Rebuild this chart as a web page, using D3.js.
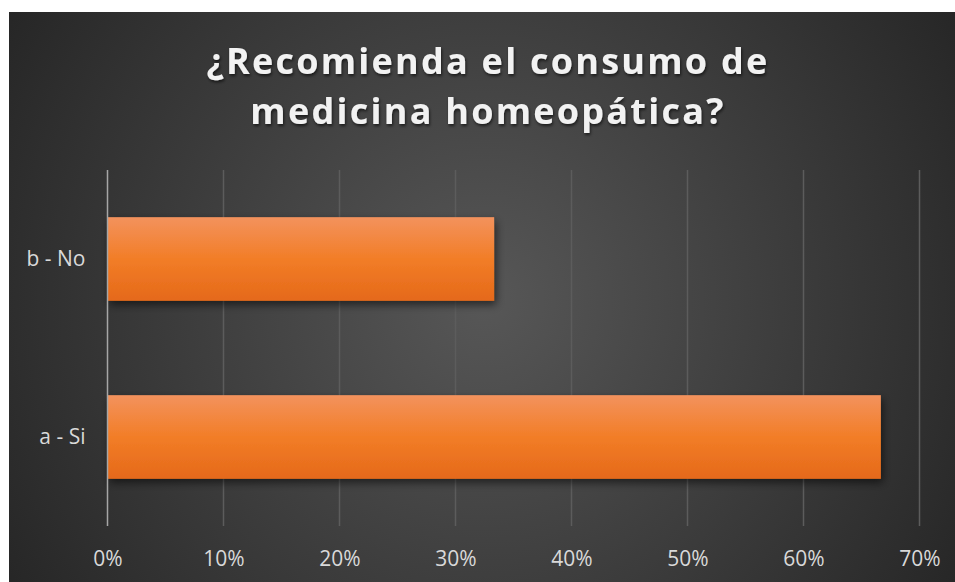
<!DOCTYPE html>
<html lang="es">
<head>
<meta charset="utf-8">
<title>Recomienda el consumo de medicina homeopática</title>
<script src="https://cdnjs.cloudflare.com/ajax/libs/d3/7.8.5/d3.min.js"></script>
<style>
  html, body { margin: 0; padding: 0; background: #fff; }
  svg { display: block; }
  .tick text { font-family: "Open Sans", "Noto Sans", sans-serif; }
</style>
</head>
<body>
<div id="chart"></div>
<script>
// data
var categories = ["b - No", "a - Si"];
var values = [0.3333, 0.6667];
var xTicks = [0, 0.1, 0.2, 0.3, 0.4, 0.5, 0.6, 0.7];
var titleLines = ["¿Recomienda el consumo de", "medicina homeopática?"];

var W = 955, H = 582;
var panel = {x: 9, y: 12};
var margin = {top: 170, right: 36, bottom: 56, left: 107.5};

var svg = d3.select("#chart").append("svg")
    .attr("width", W)
    .attr("height", H);

var defs = svg.append("defs");

var bg = defs.append("radialGradient")
    .attr("id", "bg")
    .attr("gradientUnits", "userSpaceOnUse")
    .attr("cx", 485).attr("cy", 300).attr("r", 560);
bg.append("stop").attr("offset", "0%").attr("stop-color", "#575757");
bg.append("stop").attr("offset", "100%").attr("stop-color", "#262626");

var barGrad = defs.append("linearGradient")
    .attr("id", "barGrad")
    .attr("x1", 0).attr("y1", 0).attr("x2", 0).attr("y2", 1);
barGrad.append("stop").attr("offset", "0%").attr("stop-color", "#f3925d");
barGrad.append("stop").attr("offset", "50%").attr("stop-color", "#f27d27");
barGrad.append("stop").attr("offset", "100%").attr("stop-color", "#e5691a");

var shadow = defs.append("filter").attr("id", "shadow")
    .attr("x", "-10%").attr("y", "-20%").attr("width", "130%").attr("height", "150%");
shadow.append("feDropShadow")
    .attr("dx", 2).attr("dy", 4).attr("stdDeviation", 4)
    .attr("flood-color", "#000").attr("flood-opacity", 0.55);

var txtShadow = defs.append("filter").attr("id", "txtShadow")
    .attr("x", "-5%").attr("y", "-20%").attr("width", "110%").attr("height", "150%");
txtShadow.append("feDropShadow")
    .attr("dx", 1).attr("dy", 2).attr("stdDeviation", 1.5)
    .attr("flood-color", "#000").attr("flood-opacity", 0.6);

svg.append("rect")
    .attr("x", panel.x).attr("y", panel.y)
    .attr("width", W - panel.x).attr("height", H - panel.y)
    .attr("fill", "url(#bg)");

// title
var title = svg.append("g").attr("filter", "url(#txtShadow)");
titleLines.forEach(function(line, i) {
  title.append("text")
      .attr("x", 488)
      .attr("y", 74 + i * 50)
      .attr("text-anchor", "middle")
      .attr("fill", "#f2f2f2")
      .style("font-family", "'Open Sans', 'Noto Sans', sans-serif")
      .style("font-weight", "bold")
      .style("font-size", "36px")
      .style("letter-spacing", "2px")
      .text(line);
});
// fit first line to ~563px width by adjusting letter spacing
var first = title.select("text").node();
var w0 = first.getComputedTextLength();
var n = titleLines[0].length;
var ls = 2 + (563 - w0) / n;
title.selectAll("text").style("letter-spacing", ls + "px");

var innerW = W - margin.left - margin.right;
var innerH = H - margin.top - margin.bottom;

var x = d3.scaleLinear().domain([0, 0.7]).range([0, 812]);
var y = d3.scaleBand().domain(categories).range([0, innerH]).paddingInner(0.53).paddingOuter(0.265);

var g = svg.append("g").attr("transform", "translate(" + margin.left + "," + margin.top + ")");

// gridlines
g.selectAll("line.grid")
  .data(xTicks.slice(1))
  .enter().append("line")
    .attr("class", "grid")
    .attr("x1", function(d) { return x(d); })
    .attr("x2", function(d) { return x(d); })
    .attr("y1", 0).attr("y2", innerH)
    .attr("stroke", "#5c5c5c")
    .attr("stroke-width", 1.5);

// bars
g.selectAll("rect.bar")
  .data(categories)
  .enter().append("rect")
    .attr("class", "bar")
    .attr("x", 0)
    .attr("y", function(d) { return y(d); })
    .attr("width", function(d, i) { return x(values[i]); })
    .attr("height", y.bandwidth())
    .attr("fill", "url(#barGrad)")
    .attr("filter", "url(#shadow)");

// category axis line
g.append("line")
    .attr("x1", 0).attr("x2", 0)
    .attr("y1", 0).attr("y2", innerH)
    .attr("stroke", "#a6a6a6")
    .attr("stroke-width", 1.5);

// x axis labels
var xAxis = d3.axisBottom(x).tickValues(xTicks).tickFormat(d3.format(".0%")).tickSize(0).tickPadding(25);
var xg = g.append("g").attr("transform", "translate(0," + innerH + ")").call(xAxis);
xg.select(".domain").remove();
xg.selectAll("text").attr("fill", "#d9d9d9").style("font-size", "21px");

// y axis labels
var yAxis = d3.axisLeft(y).tickSize(0).tickPadding(22);
var yg = g.append("g").call(yAxis);
yg.select(".domain").remove();
yg.selectAll("text").attr("fill", "#d9d9d9").style("font-size", "21px");
</script>
</body>
</html>
